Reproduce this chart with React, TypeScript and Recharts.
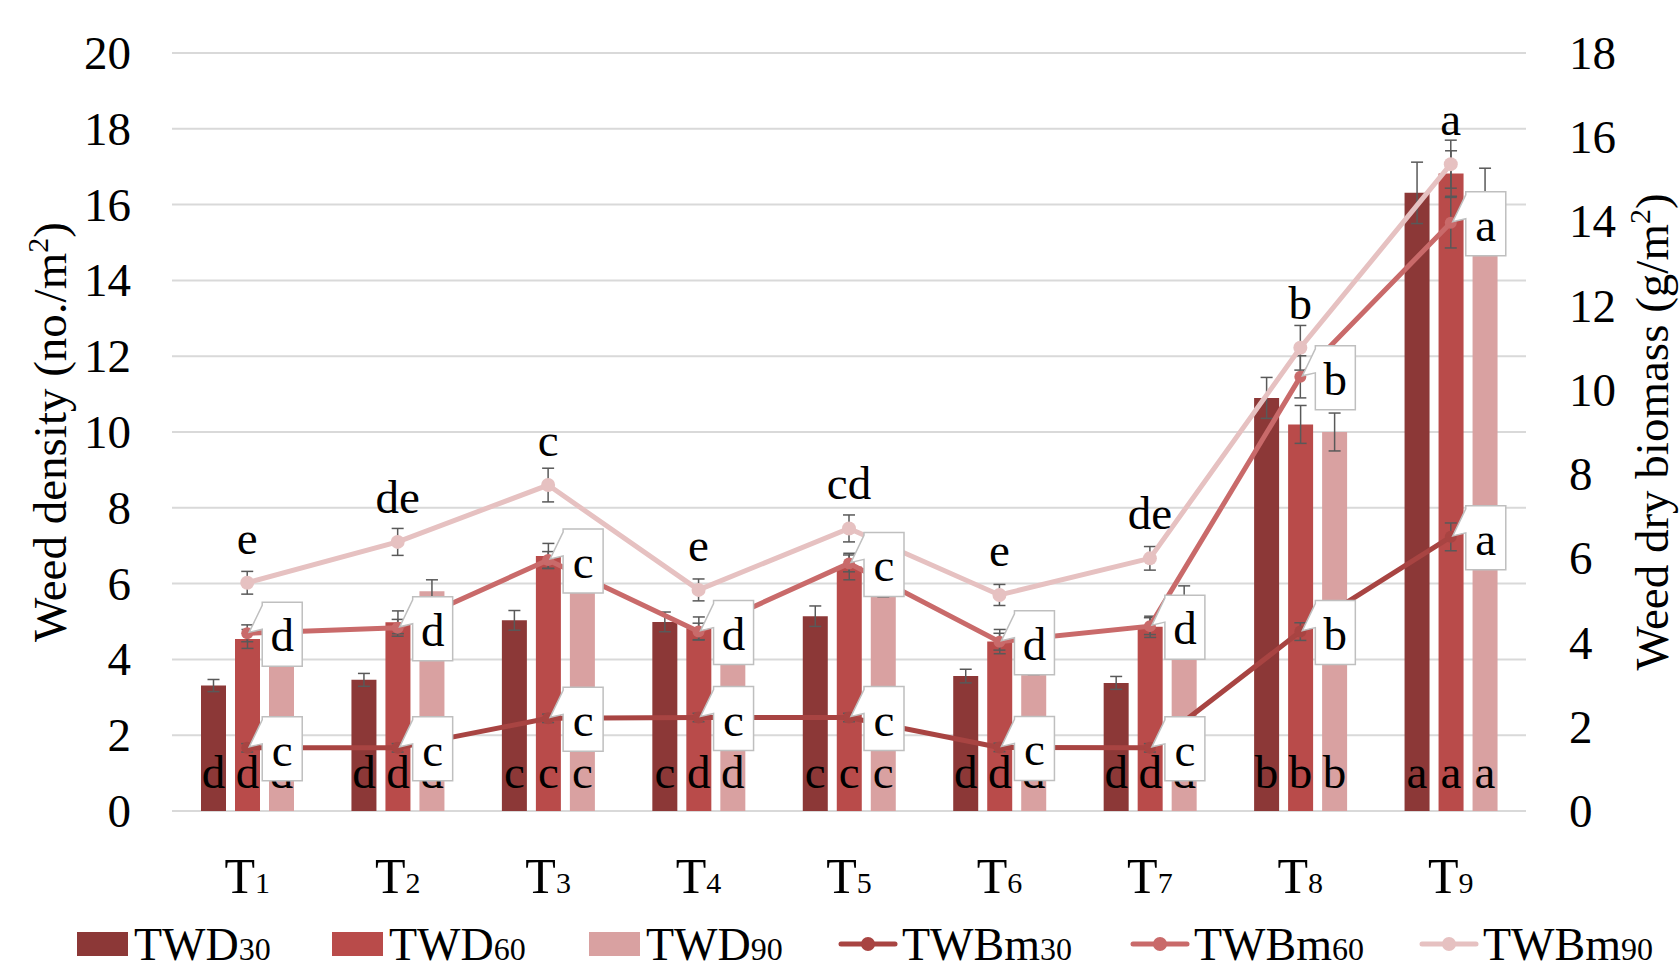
import {
  ComposedChart,
  Bar,
  Line,
  XAxis,
  YAxis,
  CartesianGrid,
  ErrorBar,
  LabelList,
  Legend,
} from 'recharts';

// Treatments T1..T9
const treatments = ['T1', 'T2', 'T3', 'T4', 'T5', 'T6', 'T7', 'T8', 'T9'];

// Weed density (left axis, no./m2)
const twd30 = [3.31, 3.46, 5.03, 4.99, 5.14, 3.56, 3.38, 10.9, 16.31];
const twd30Err = [0.16, 0.17, 0.26, 0.26, 0.27, 0.18, 0.17, 0.54, 0.81];
const twd60 = [4.54, 4.98, 6.73, 4.82, 6.45, 4.47, 4.86, 10.2, 16.82];
const twd60Err = [0.25, 0.3, 0.33, 0.3, 0.35, 0.32, 0.28, 0.5, 0.6];
const twd90 = [4.3, 5.8, 6.2, 4.2, 6.0, 3.9, 5.6, 10.0, 16.3];
const twd90Err = [0.3, 0.3, 0.3, 0.3, 0.35, 0.3, 0.34, 0.5, 0.66];

// Weed dry biomass (right axis, g/m2)
const twbm30 = [1.5, 1.5, 2.2, 2.22, 2.22, 1.51, 1.5, 4.26, 6.51];
const twbm30Err = [0.1, 0.1, 0.1, 0.1, 0.1, 0.1, 0.1, 0.21, 0.33];
const twbm60 = [4.22, 4.35, 5.96, 4.26, 5.88, 4.02, 4.39, 10.31, 13.97];
const twbm60Err = [0.2, 0.2, 0.2, 0.2, 0.2, 0.2, 0.2, 0.5, 0.6];
const twbm90 = [5.42, 6.39, 7.74, 5.25, 6.71, 5.13, 6.0, 11.0, 15.36];
const twbm90Err = [0.27, 0.32, 0.4, 0.26, 0.32, 0.25, 0.28, 0.53, 0.57];

// Significance letters
const twd30Letters = ['d', 'd', 'c', 'c', 'c', 'd', 'd', 'b', 'a'];
const twd60Letters = ['d', 'd', 'c', 'd', 'c', 'd', 'd', 'b', 'a'];
const twd90Letters = ['d', 'd', 'c', 'd', 'c', 'd', 'd', 'b', 'a'];
const twbm30Letters = ['c', 'c', 'c', 'c', 'c', 'c', 'c', 'b', 'a'];
const twbm60Letters = ['d', 'd', 'c', 'd', 'c', 'd', 'd', 'b', 'a'];
const twbm90Letters = ['e', 'de', 'c', 'e', 'cd', 'e', 'de', 'b', 'a'];

// Axis ticks
const leftTicks = [0, 2, 4, 6, 8, 10, 12, 14, 16, 18, 20];
const rightTicks = [0, 2, 4, 6, 8, 10, 12, 14, 16, 18];

const FONT = '"Liberation Serif", "Times New Roman", serif';

const COLORS = {
  twd30: '#8C3837',
  twd60: '#B94B4A',
  twd90: '#D9A1A1',
  twbm30: '#A84442',
  twbm60: '#C96A6A',
  twbm90: '#E6C1C1',
};

const data = treatments.map((name, i) => ({
  name,
  twd30: twd30[i],
  twd30Err: twd30Err[i],
  twd60: twd60[i],
  twd60Err: twd60Err[i],
  twd90: twd90[i],
  twd90Err: twd90Err[i],
  twbm30: twbm30[i],
  twbm30Err: twbm30Err[i],
  twbm60: twbm60[i],
  twbm60Err: twbm60Err[i],
  twbm90: twbm90[i],
  twbm90Err: twbm90Err[i],
  l30: twd30Letters[i],
  l60: twd60Letters[i],
  l90: twd90Letters[i],
  b30: twbm30Letters[i],
  b60: twbm60Letters[i],
  b90: twbm90Letters[i],
}));

const LEGEND = [
  { base: 'TWD', sub: '30', kind: 'bar', color: COLORS.twd30, x: 77 },
  { base: 'TWD', sub: '60', kind: 'bar', color: COLORS.twd60, x: 332 },
  { base: 'TWD', sub: '90', kind: 'bar', color: COLORS.twd90, x: 589 },
  { base: 'TWBm', sub: '30', kind: 'line', color: COLORS.twbm30, x: 841 },
  { base: 'TWBm', sub: '60', kind: 'line', color: COLORS.twbm60, x: 1133 },
  { base: 'TWBm', sub: '90', kind: 'line', color: COLORS.twbm90, x: 1422 },
];

// x tick "T" + subscript number
function XTick({ x, y, payload }: any) {
  const v = String(payload.value);
  return (
    <text x={x} y={y + 82} textAnchor="middle" fontFamily={FONT} fontSize={50} fill="#000">
      {v[0]}
      <tspan fontSize={30}>{v.slice(1)}</tspan>
    </text>
  );
}

function LeftTick({ x, y, payload }: any) {
  return (
    <text x={x - 41} y={y + 16} textAnchor="end" fontFamily={FONT} fontSize={47} fill="#000">
      {payload.value}
    </text>
  );
}

function RightTick({ x, y, payload }: any) {
  return (
    <text x={x + 43} y={y + 16} textAnchor="start" fontFamily={FONT} fontSize={47} fill="#000">
      {payload.value}
    </text>
  );
}

function AxisTitle({ viewBox, text, dx }: any) {
  const cx = viewBox.x + dx;
  const cy = viewBox.y + viewBox.height / 2;
  return (
    <text
      x={cx}
      y={cy}
      textAnchor="middle"
      fontFamily={FONT}
      fontSize={47}
      fill="#000"
      transform={`rotate(-90, ${cx}, ${cy})`}
    >
      {text}
      <tspan fontSize={30} dy={-18}>2</tspan>
      <tspan fontSize={47} dy={18}>)</tspan>
    </text>
  );
}

// letter at the foot of each bar
function BarLetter({ x, y, width, height, value }: any) {
  return (
    <text x={x + width / 2} y={y + height - 23} textAnchor="middle" fontFamily={FONT} fontSize={47} fill="#000">
      {value}
    </text>
  );
}

// plain letter above a point
function TopLetter({ x, y, value }: any) {
  return (
    <text x={x} y={y - 29} textAnchor="middle" fontFamily={FONT} fontSize={47} fill="#000">
      {value}
    </text>
  );
}

// Excel-like callout box to the right of a point
function Callout({ x, y, value }: any) {
  const L = x + 15;
  const R = x + 55;
  const T = y - 31;
  const B = y + 33;
  const d = `M${L},${T} H${R} V${B} H${L} V${T + 27} L${x + 2},${y - 1} L${L},${T + 3} Z`;
  return (
    <g>
      <path d={d} fill="#fff" stroke="#BFBFBF" strokeWidth={1.5} />
      <text x={(L + R) / 2} y={y + 18} textAnchor="middle" fontFamily={FONT} fontSize={47} fill="#000">
        {value}
      </text>
    </g>
  );
}

function LegendContent() {
  return (
    <svg width={1679} height={61} style={{ display: 'block', overflow: 'visible' }}>
      {LEGEND.map((item) => (
        <g key={item.base + item.sub}>
          {item.kind === 'bar' ? (
            <rect x={item.x} y={32} width={51} height={24} fill={item.color} />
          ) : (
            <g>
              <line x1={item.x} y1={44} x2={item.x + 54} y2={44} stroke={item.color} strokeWidth={5} strokeLinecap="round" />
              <circle cx={item.x + 27} cy={44} r={7} fill={item.color} />
            </g>
          )}
          <text
            x={item.x + (item.kind === 'bar' ? 57 : 61)}
            y={60}
            fontFamily={FONT}
            fontSize={46}
            fill="#000"
          >
            {item.base}
            <tspan fontSize={32}>{item.sub}</tspan>
          </text>
        </g>
      ))}
    </svg>
  );
}

const errProps = { width: 6, strokeWidth: 1.5, stroke: '#595959', direction: 'y' as const, isAnimationActive: false };

export default function App() {
  return (
    <div style={{ position: 'absolute', left: 0, top: 0, width: 1679, height: 961, background: '#fff' }}>
      <ComposedChart
        width={1679}
        height={961}
        data={data}
        margin={{ top: 53, right: 0, bottom: 0, left: 0 }}
        barGap={9}
        barSize={25}
      >
        <CartesianGrid yAxisId="left" vertical={false} stroke="#D9D9D9" strokeWidth={2} />
        <XAxis
          dataKey="name"
          height={150}
          axisLine={false}
          tickLine={false}
          tickSize={0}
          tickMargin={0}
          tick={<XTick />}
          interval={0}
        />
        <YAxis
          yAxisId="left"
          orientation="left"
          width={172}
          domain={[0, 20]}
          ticks={leftTicks}
          axisLine={false}
          tickLine={false}
          tickSize={0}
          tickMargin={0}
          tick={<LeftTick />}
          label={<AxisTitle text="Weed density (no./m" dx={66} />}
        />
        <YAxis
          yAxisId="right"
          orientation="right"
          width={153}
          domain={[0, 18]}
          ticks={rightTicks}
          axisLine={false}
          tickLine={false}
          tickSize={0}
          tickMargin={0}
          tick={<RightTick />}
          label={<AxisTitle text="Weed dry biomass (g/m" dx={142} />}
        />

        <Bar yAxisId="left" dataKey="twd30" fill={COLORS.twd30} isAnimationActive={false}>
          <ErrorBar dataKey="twd30Err" {...errProps} />
          <LabelList dataKey="l30" content={<BarLetter />} />
        </Bar>
        <Bar yAxisId="left" dataKey="twd60" fill={COLORS.twd60} isAnimationActive={false}>
          <ErrorBar dataKey="twd60Err" {...errProps} />
          <LabelList dataKey="l60" content={<BarLetter />} />
        </Bar>
        <Bar yAxisId="left" dataKey="twd90" fill={COLORS.twd90} isAnimationActive={false}>
          <ErrorBar dataKey="twd90Err" {...errProps} />
          <LabelList dataKey="l90" content={<BarLetter />} />
        </Bar>

        <Line
          yAxisId="right"
          dataKey="twbm30"
          stroke={COLORS.twbm30}
          strokeWidth={5}
          dot={{ r: 6, fill: COLORS.twbm30, stroke: COLORS.twbm30, strokeWidth: 0 }}
          activeDot={false}
          isAnimationActive={false}
        >
          <ErrorBar dataKey="twbm30Err" {...errProps} />
          <LabelList dataKey="b30" content={<Callout />} />
        </Line>
        <Line
          yAxisId="right"
          dataKey="twbm60"
          stroke={COLORS.twbm60}
          strokeWidth={5}
          dot={{ r: 6, fill: COLORS.twbm60, stroke: COLORS.twbm60, strokeWidth: 0 }}
          activeDot={false}
          isAnimationActive={false}
        >
          <ErrorBar dataKey="twbm60Err" {...errProps} />
          <LabelList dataKey="b60" content={<Callout />} />
        </Line>
        <Line
          yAxisId="right"
          dataKey="twbm90"
          stroke={COLORS.twbm90}
          strokeWidth={5}
          dot={{ r: 7, fill: COLORS.twbm90, stroke: COLORS.twbm90, strokeWidth: 0 }}
          activeDot={false}
          isAnimationActive={false}
        >
          <ErrorBar dataKey="twbm90Err" {...errProps} />
          <LabelList dataKey="b90" content={<TopLetter />} />
        </Line>

        <Legend
          layout="horizontal"
          verticalAlign="middle"
          align="center"
          content={<LegendContent />}
          wrapperStyle={{ position: 'absolute', left: 0, top: 900, width: 1679, height: 61 }}
        />
      </ComposedChart>
    </div>
  );
}
